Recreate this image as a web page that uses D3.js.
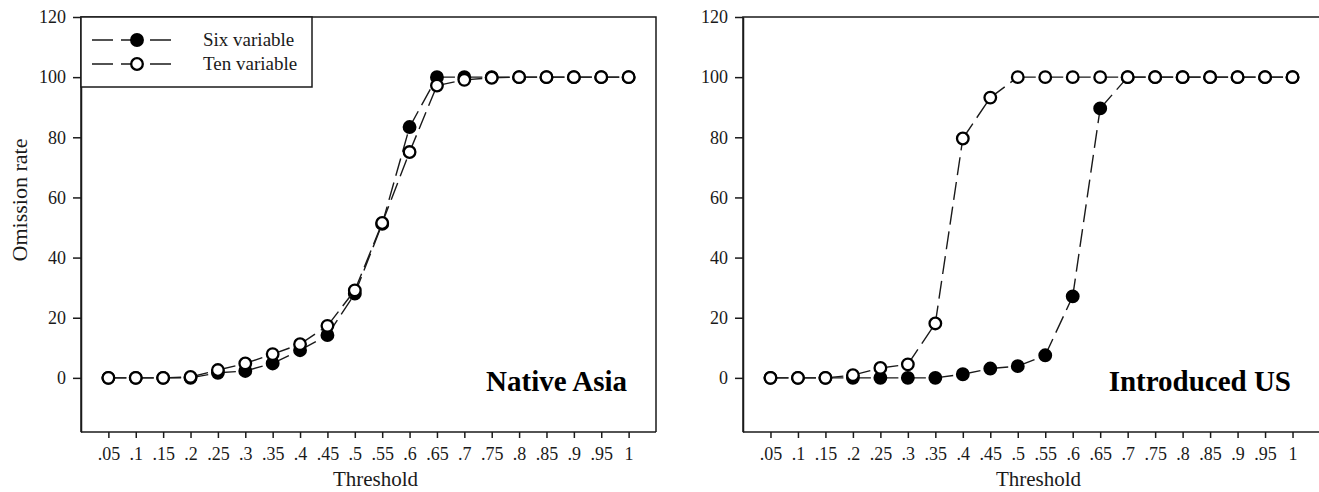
<!DOCTYPE html>
<html>
<head>
<meta charset="utf-8">
<script src="https://cdn.jsdelivr.net/npm/d3@7"></script>
<style>
  body { margin: 0; background: #fff; }
  svg { display: block; font-family: 'Liberation Serif', 'Times New Roman', serif; }
</style>
</head>
<body>
<div id="chart"></div>
<script>
// thresholds on the x axis
const thresholds = [0.05, 0.1, 0.15, 0.2, 0.25, 0.3, 0.35, 0.4, 0.45, 0.5,
  0.55, 0.6, 0.65, 0.7, 0.75, 0.8, 0.85, 0.9, 0.95, 1];
const xTickLabels = ['.05', '.1', '.15', '.2', '.25', '.3', '.35', '.4', '.45', '.5',
  '.55', '.6', '.65', '.7', '.75', '.8', '.85', '.9', '.95', '1'];
const yTicks = [0, 20, 40, 60, 80, 100, 120];

// omission rate, Native Asia
const asiaSix = [0, 0, 0, 0, 1.7, 2.3, 4.8, 9.2, 14.2, 28, 51.2, 83.4, 100, 100, 100, 100, 100, 100, 100, 100];
const asiaTen = [0, 0, 0, 0.3, 2.6, 4.8, 7.9, 11.2, 17.3, 29.1, 51.5, 75.1, 97.2, 99.1, 99.8, 100, 100, 100, 100, 100];

// omission rate, Introduced US
const usSix = [0, 0, 0, 0, 0, 0, 0, 1.2, 3.1, 3.9, 7.5, 27.1, 89.6, 100, 100, 100, 100, 100, 100, 100];
const usTen = [0, 0, 0, 0.9, 3.3, 4.5, 18.1, 79.6, 93.2, 100, 100, 100, 100, 100, 100, 100, 100, 100, 100, 100];

const seriesNames = ['Six variable', 'Ten variable'];

const width = 1319, height = 492;
const plotTop = 17, plotBottom = 432;
const ink = '#1a1a1a';

const svg = d3.select('#chart').append('svg')
  .attr('width', width)
  .attr('height', height);

const y = d3.scaleLinear().domain([-18, 120]).range([plotBottom, plotTop]);

function drawPanel(left, right, six, ten, label, withYTitle, withLegend) {
  const x = d3.scaleLinear().domain([0, 1.05]).range([left, right]);
  const g = svg.append('g');

  // frame
  g.append('path')
    .attr('d', `M${left},${plotBottom}V${plotTop}H${right}V${plotBottom}`)
    .attr('fill', 'none')
    .attr('stroke', ink)
    .attr('stroke-width', 1.5);

  const xAxis = g.append('g')
    .attr('transform', `translate(0,${plotBottom})`)
    .call(d3.axisBottom(x)
      .tickValues(thresholds)
      .tickFormat((d, i) => xTickLabels[i])
      .tickSize(6)
      .tickPadding(9)
      .tickSizeOuter(0));
  xAxis.select('.domain').attr('d', `M${left},0H${right}`);

  const yAxis = g.append('g')
    .attr('transform', `translate(${left},0)`)
    .call(d3.axisLeft(y)
      .tickValues(yTicks)
      .tickSize(8)
      .tickPadding(7)
      .tickSizeOuter(0));

  [xAxis, yAxis].forEach(a => {
    a.selectAll('path, line').attr('stroke', ink).attr('stroke-width', 1.5);
    a.selectAll('text')
      .attr('fill', ink)
      .style('font-size', '18px')
      .style('font-family', "'Liberation Serif', serif");
  });

  g.append('text')
    .attr('x', (left + right) / 2 + 7)
    .attr('y', 486)
    .attr('text-anchor', 'middle')
    .attr('fill', ink)
    .style('font-size', '21px')
    .text('Threshold');

  if (withYTitle) {
    g.append('text')
      .attr('transform', 'translate(27,200) rotate(-90)')
      .attr('text-anchor', 'middle')
      .attr('fill', ink)
      .style('font-size', '22px')
      .text('Omission rate');
  }

  g.append('text')
    .attr('x', right - 29)
    .attr('y', 391)
    .attr('text-anchor', 'end')
    .attr('fill', '#000')
    .style('font-size', '29px')
    .style('font-weight', 'bold')
    .text(label);

  // series: each segment dashed on its own, like the original plot
  const line = d3.line();
  [six, ten].forEach((vals, si) => {
    const pts = vals.map((v, i) => [x(thresholds[i]), y(v)]);
    const segs = d3.pairs(pts);
    g.append('g').selectAll('path')
      .data(segs)
      .join('path')
      .attr('d', line)
      .attr('fill', 'none')
      .attr('stroke', ink)
      .attr('stroke-width', 1.4)
      .attr('stroke-dasharray', '18,7');
    g.append('g').selectAll('circle')
      .data(pts)
      .join('circle')
      .attr('cx', d => d[0])
      .attr('cy', d => d[1])
      .attr('r', 5.8)
      .attr('fill', si === 0 ? '#000' : '#fff')
      .attr('stroke', '#000')
      .attr('stroke-width', 2.3);
  });

  if (withLegend) {
    const lg = g.append('g');
    lg.append('rect')
      .attr('x', left).attr('y', plotTop)
      .attr('width', 231).attr('height', 70)
      .attr('fill', '#fff')
      .attr('stroke', ink)
      .attr('stroke-width', 1.5);
    seriesNames.forEach((name, i) => {
      const cy = 40 + i * 24;
      lg.append('line')
        .attr('x1', 92).attr('x2', 172)
        .attr('y1', cy).attr('y2', cy)
        .attr('stroke', ink)
        .attr('stroke-width', 1.4)
        .attr('stroke-dasharray', '21,8');
      lg.append('circle')
        .attr('cx', 137).attr('cy', cy).attr('r', 5.8)
        .attr('fill', i === 0 ? '#000' : '#fff')
        .attr('stroke', '#000')
        .attr('stroke-width', 2.3);
      lg.append('text')
        .attr('x', 203).attr('y', cy + 6)
        .attr('fill', ink)
        .style('font-size', '19px')
        .text(name);
    });
  }
}

drawPanel(81, 656, asiaSix, asiaTen, 'Native Asia', true, true);
drawPanel(743, 1320, usSix, usTen, 'Introduced US', false, false);
</script>
</body>
</html>
